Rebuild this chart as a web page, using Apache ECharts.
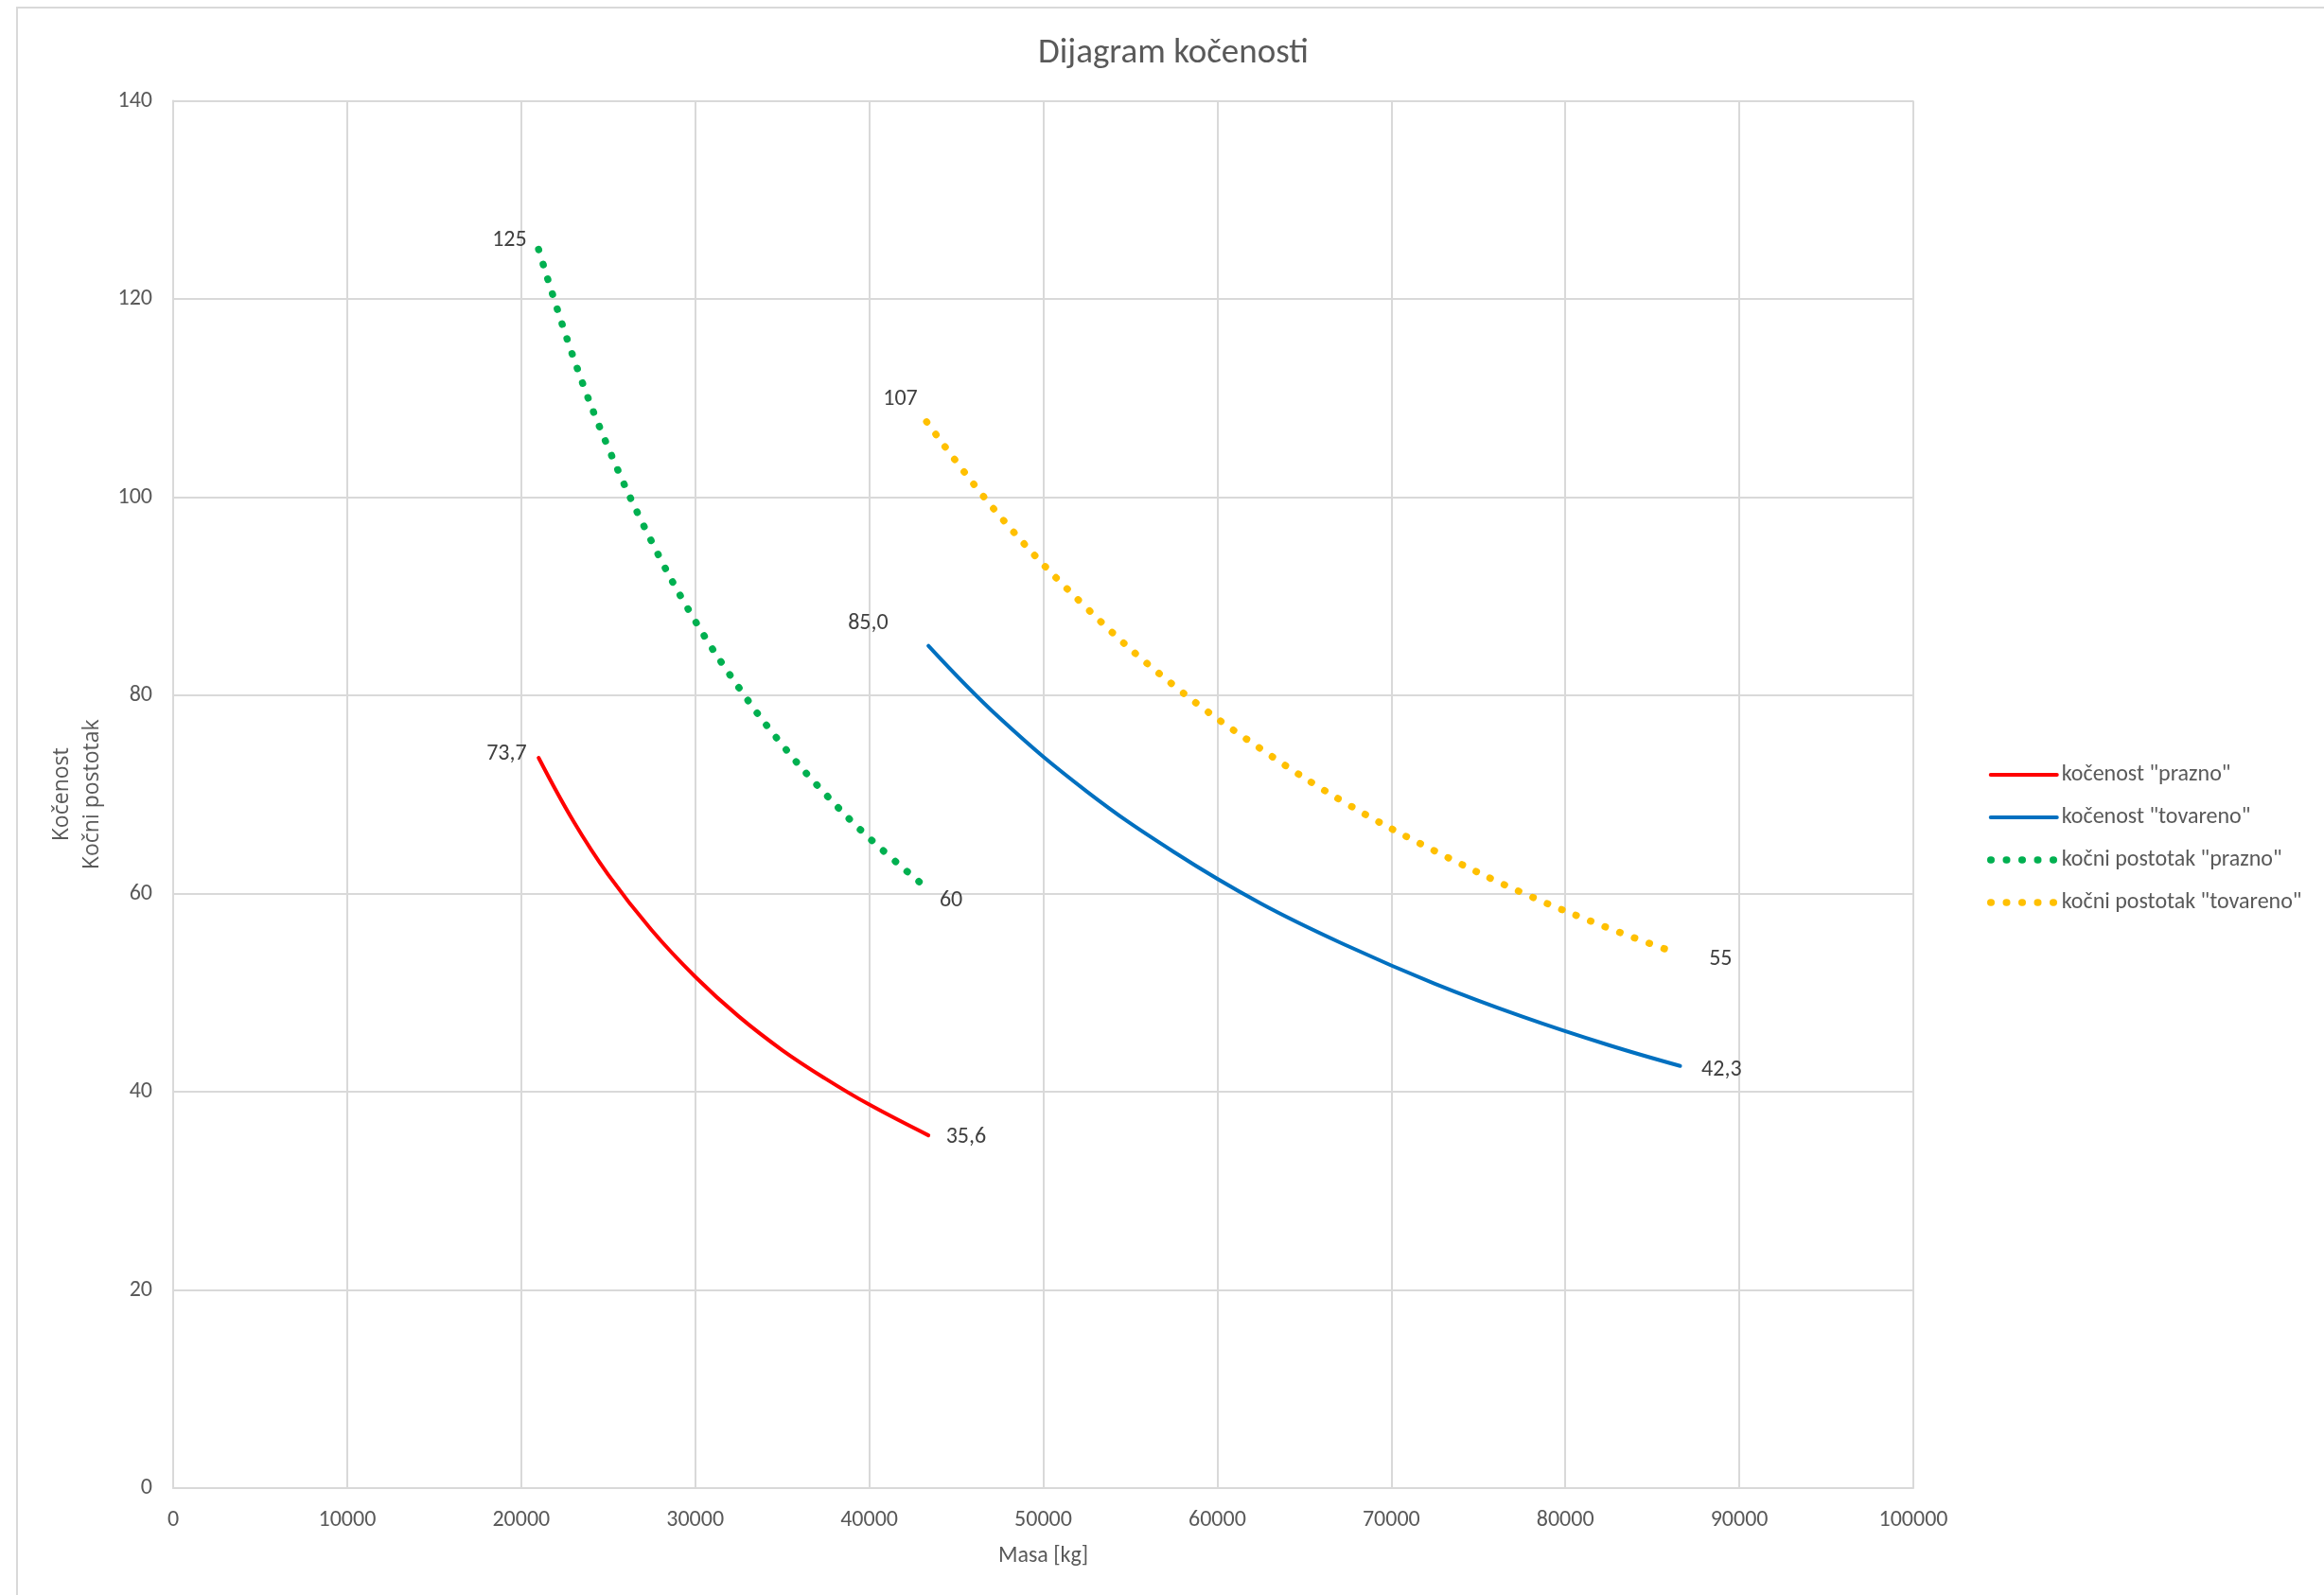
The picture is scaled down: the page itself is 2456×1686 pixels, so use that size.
<!DOCTYPE html>
<html>
<head>
<meta charset="utf-8">
<script src="https://cdn.jsdelivr.net/npm/echarts@6/dist/echarts.min.js"></script>
<style>html,body{margin:0;padding:0;background:#fff;}#c{width:2456px;height:1686px;}</style>
</head>
<body>
<div id="c"></div>
<script>
// ---- data ----
const titleText = 'Dijagram kočenosti';
const xName = 'Masa [kg]';
const yName = 'Kočenost\nKočni postotak';
const seriesNames = ['kočenost "prazno"', 'kočenost "tovareno"', 'kočni postotak "prazno"', 'kočni postotak "tovareno"'];

const masaPraznoKoc = [21000, 23000, 25000, 27500, 30000, 32500, 35000, 37500, 40000, 43400];
const kocenostPrazno = [73.7, 67.3, 61.9, 56.3, 51.6, 47.6, 44.2, 41.3, 38.7, 35.6];

const masaTovKoc = [43400, 47500, 52500, 57500, 62500, 67500, 72500, 77500, 82500, 86600];
const kocenostTovareno = [85.0, 77.7, 70.3, 64.2, 59.0, 54.7, 50.9, 47.6, 44.7, 42.6];

const masaPraznoPost = [21000, 23000, 25000, 27500, 30000, 32500, 35000, 37500, 40000, 43200];
const postotakPrazno = [125, 114.1, 105.0, 95.5, 87.5, 80.8, 75.0, 70.0, 65.6, 60.7];

const masaTovPost = [43300, 47500, 52500, 57500, 62500, 67500, 72500, 77500, 82500, 85900];
const postotakTovareno = [107.6, 98.1, 88.8, 81.0, 74.6, 69.0, 64.3, 60.1, 56.5, 54.3];

const endLabels = [['73,7', '35,6'], ['85,0', '42,3'], ['125', '60'], ['107', '55']];

// ---- styling ----
const F = "Carlito, 'Liberation Sans Narrow', 'Open Sans', sans-serif";
const TXT = '#595959';
const colors = ['#ff0000', '#0070c0', '#00b050', '#ffc000'];
const labelPos = [
  [{position: 'left', distance: 12, offset: [0, -4]}, {position: 'right', distance: 18, offset: [0, 2]}],
  [{position: 'left', distance: 42, offset: [0, -24]}, {position: 'right', distance: 22, offset: [0, 4]}],
  [{position: 'left', distance: 12, offset: [0, -10]}, {position: 'right', distance: 15, offset: [0, 15]}],
  [{position: 'left', distance: 9, offset: [0, -24]}, {position: 'right', distance: 43, offset: [0, 10]}]
];

function build(xs, ys, si) {
  const last = ys.length - 1;
  return ys.map((v, i) => {
    const item = {value: [xs[i], v]};
    if (i === 0 || i === last) {
      const p = labelPos[si][i === 0 ? 0 : 1];
      item.label = {
        show: true, position: p.position, distance: p.distance, offset: p.offset,
        formatter: endLabels[si][i === 0 ? 0 : 1], opacity: 1,
        color: '#404040', fontFamily: F, fontSize: 24
      };
    } else {
      item.symbol = 'none';
    }
    return item;
  });
}

const allX = [masaPraznoKoc, masaTovKoc, masaPraznoPost, masaTovPost];
const allY = [kocenostPrazno, kocenostTovareno, postotakPrazno, postotakTovareno];

const series = allY.map((ys, si) => {
  const dotted = si >= 2;
  return {
    name: seriesNames[si],
    type: 'line',
    data: build(allX[si], ys, si),
    smooth: 0.4,
    symbol: 'circle',
    symbolSize: 1,
    showSymbol: true,
    itemStyle: {color: colors[si], opacity: 0},
    lineStyle: dotted
      ? {color: colors[si], width: 7.5, type: [0.5, 16], cap: 'round'}
      : {color: colors[si], width: 4, cap: 'round'},
    label: {show: false, opacity: 1},
    silent: true,
    animation: false
  };
});

const chart = echarts.init(document.getElementById('c'), null, {renderer: 'canvas'});
chart.setOption({
  backgroundColor: '#ffffff',
  animation: false,
  title: {
    text: titleText, left: 1235, top: 52, textAlign: 'center', textVerticalAlign: 'middle',
    textStyle: {fontFamily: F, fontSize: 37, fontWeight: 'normal', color: TXT}
  },
  graphic: [{
    type: 'rect', shape: {x: 18, y: 8, width: 2600, height: 1800},
    style: {fill: 'none', stroke: '#d9d9d9', lineWidth: 2}, silent: true, z: -1
  }],
  grid: {left: 183, right: 434, top: 106.5, bottom: 113, containLabel: false},
  legend: {
    orient: 'vertical', left: 2095, top: 799,
    itemWidth: 70, itemHeight: 14, itemGap: 15,
    lineStyle: {width: 'inherit'},
    itemStyle: {opacity: 0},
    textStyle: {fontFamily: F, fontSize: 24, color: TXT, lineHeight: 30},
    data: seriesNames
  },
  xAxis: {
    type: 'value', min: 0, max: 100000, interval: 10000,
    name: xName, nameLocation: 'middle', nameGap: 60,
    nameTextStyle: {fontFamily: F, fontSize: 24, color: TXT},
    axisLine: {show: true, lineStyle: {color: '#d9d9d9', width: 2}},
    axisTick: {show: false},
    splitLine: {show: true, lineStyle: {color: '#d9d9d9', width: 2}},
    axisLabel: {fontFamily: F, fontSize: 24, color: TXT, margin: 22, formatter: v => String(v)}
  },
  yAxis: {
    type: 'value', min: 0, max: 140, interval: 20,
    name: yName, nameLocation: 'middle', nameGap: 49, nameRotate: 90,
    nameTextStyle: {fontFamily: "'Open Sans', 'Noto Sans', sans-serif", fontSize: 23, color: TXT, lineHeight: 32, align: 'center'},
    axisLine: {show: true, lineStyle: {color: '#d9d9d9', width: 2}},
    axisTick: {show: false},
    splitLine: {show: true, lineStyle: {color: '#d9d9d9', width: 2}},
    axisLabel: {fontFamily: F, fontSize: 24, color: TXT, margin: 22}
  },
  series: series
});
</script>
</body>
</html>
